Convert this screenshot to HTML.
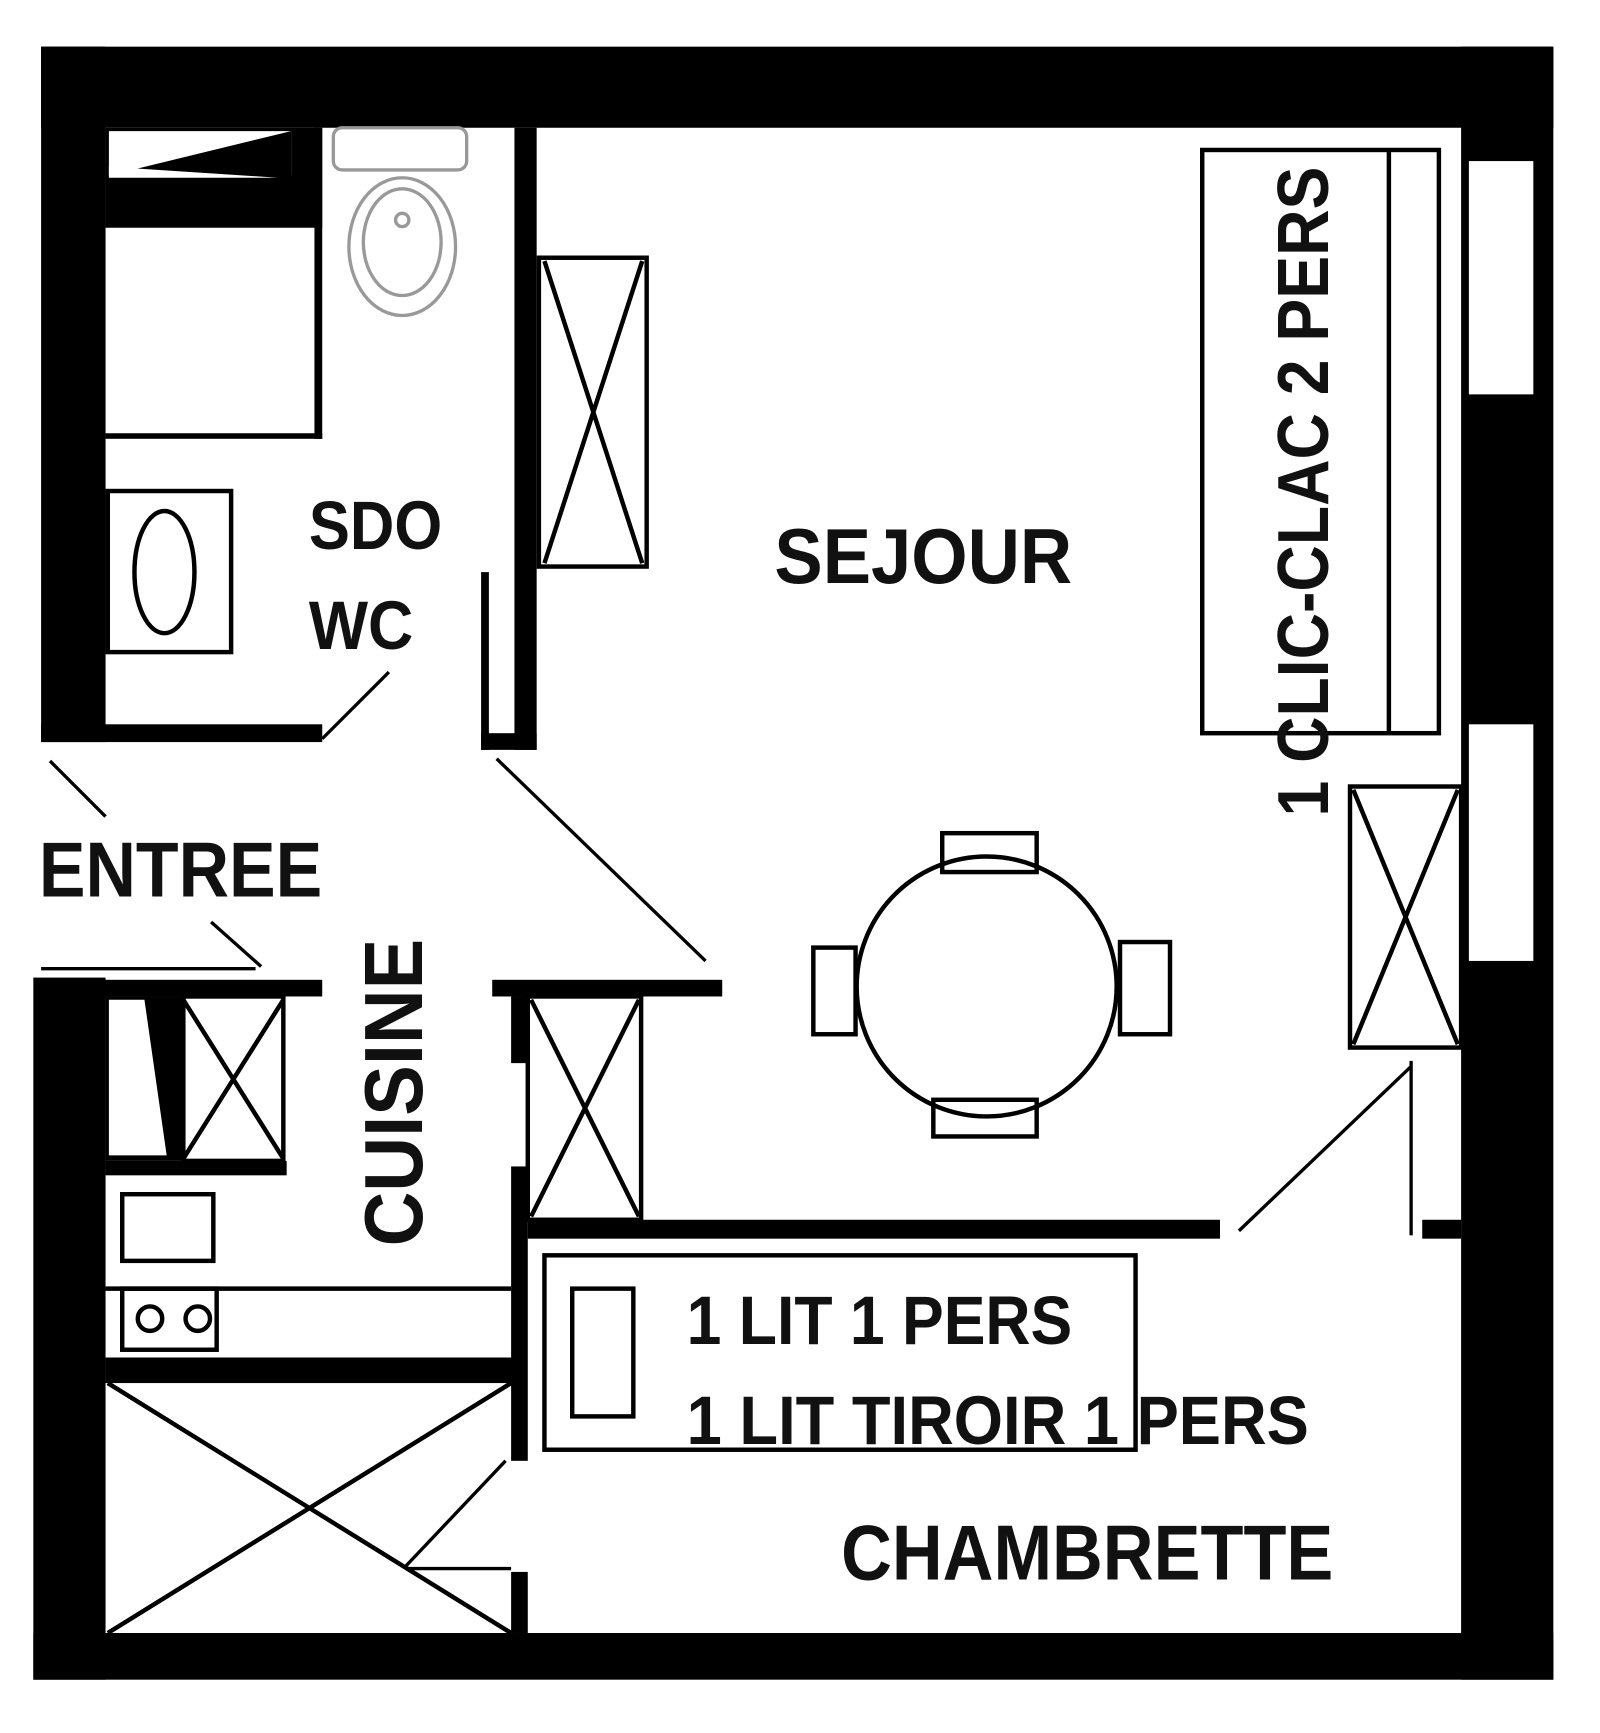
<!DOCTYPE html>
<html><head><meta charset="utf-8"><style>
html,body{margin:0;padding:0;background:#fff;}
svg{display:block;}
text{font-family:"Liberation Sans",sans-serif;font-weight:bold;fill:#111;}
</style></head><body>
<svg width="1600" height="1733" viewBox="0 0 1440 1560" preserveAspectRatio="none" xmlns="http://www.w3.org/2000/svg">
<rect width="1440" height="1560" fill="#fff"/>
<g fill="#000">
<rect x="37" y="42" width="1361" height="73"/>
<rect x="37" y="42" width="58" height="626"/>
<rect x="30" y="880" width="65" height="632"/>
<rect x="30" y="1470" width="1368" height="42"/>
<rect x="1315" y="42" width="83" height="1470"/>
<rect x="95" y="115" width="195" height="90"/>
<rect x="283" y="115" width="7" height="280"/>
<rect x="95" y="390" width="195" height="5"/>
<rect x="37" y="652" width="253" height="16"/>
<rect x="463" y="115" width="20" height="560"/>
<rect x="433" y="515" width="7" height="160"/>
<rect x="433" y="660" width="50" height="15"/>
<rect x="37" y="882" width="253" height="15"/>
<rect x="443" y="882" width="207" height="15"/>
<rect x="460" y="897" width="15" height="60"/>
<rect x="460" y="1050" width="15" height="265"/>
<rect x="460" y="1415" width="15" height="55"/>
<rect x="95" y="1045" width="163" height="13"/>
<rect x="95" y="1222" width="375" height="23"/>
<rect x="475" y="1098" width="623" height="17"/>
<rect x="1280" y="1098" width="35" height="17"/>
<rect x="95" y="897" width="70" height="148"/>
</g>
<polygon points="98,118 262,118 262,158 98,158" fill="#fff"/>
<polygon points="98,158 262,118 262,158" fill="#000"/>
<polygon points="98,160 250,160 98,150" fill="#fff"/>
<polygon points="98,900 130,900 150,1040 98,1040" fill="#fff"/>
<rect x="1322" y="145" width="58" height="210" fill="#fff"/>
<rect x="1322" y="652" width="58" height="213" fill="#fff"/>
<g fill="none" stroke="#000" stroke-width="4">
<rect x="97" y="442" width="111" height="145"/>
<ellipse cx="148" cy="515" rx="27" ry="55"/>
<rect x="485" y="232" width="97" height="278"/>
<path d="M490,235 L578,507 M578,235 L490,507"/>
<rect x="165" y="897" width="90" height="148"/>
<path d="M165,900 L255,1043 M255,900 L165,1043"/>
<rect x="475" y="897" width="102" height="201"/>
<path d="M478,900 L575,1095 M575,900 L478,1095"/>
<rect x="1215" y="708" width="100" height="235"/>
<path d="M1218,711 L1312,940 M1312,711 L1218,940"/>
<path d="M97,1245 L460,1470 M460,1245 L97,1470"/>
<rect x="110" y="1075" width="82" height="60"/>
<rect x="110" y="1160" width="85" height="55"/>
<circle cx="135" cy="1187" r="11"/><circle cx="178" cy="1187" r="11"/>
<path d="M95,1160 L460,1160"/>
<rect x="1082" y="135" width="213" height="525"/>
<path d="M1250,135 L1250,660"/>
<circle cx="888" cy="888" r="117"/>
<rect x="848" y="750" width="85" height="35"/>
<rect x="840" y="990" width="93" height="33"/>
<rect x="732" y="853" width="38" height="78"/>
<rect x="1008" y="848" width="45" height="83"/>
<rect x="490" y="1130" width="532" height="175"/>
<rect x="515" y="1160" width="55" height="115"/>
</g>
<g fill="none" stroke="#999" stroke-width="3">
<rect x="300" y="115" width="120" height="38" rx="8"/>
<ellipse cx="362" cy="222" rx="48" ry="62"/>
<ellipse cx="362" cy="218" rx="35" ry="48"/>
<circle cx="362" cy="198" r="6"/>
</g>
<g stroke="#000" stroke-width="3" fill="none">
<path d="M290,665 L350,605"/>
<path d="M447,683 L635,865"/>
<path d="M45,685 L95,735"/>
<path d="M190,830 L235,870"/>
<path d="M37,872 L230,872"/>
<path d="M365,1410 L455,1315"/>
<path d="M365,1412 L460,1412"/>
<path d="M1115,1108 L1270,960"/>
<path d="M1270,955 L1270,1112"/>
</g>
<g lengthAdjust="spacingAndGlyphs">
<text x="278" y="494" font-size="62" textLength="120" lengthAdjust="spacingAndGlyphs">SDO</text>
<text x="278" y="584" font-size="62" textLength="94" lengthAdjust="spacingAndGlyphs">WC</text>
<text x="697" y="525" font-size="70" textLength="268" lengthAdjust="spacingAndGlyphs">SEJOUR</text>
<text x="35" y="807" font-size="70" textLength="255" lengthAdjust="spacingAndGlyphs">ENTREE</text>
<text transform="translate(380,1122) rotate(-90)" font-size="74" textLength="277" lengthAdjust="spacingAndGlyphs">CUISINE</text>
<text transform="translate(1195,735) rotate(-90)" font-size="65" textLength="585" lengthAdjust="spacingAndGlyphs">1 CLIC-CLAC 2 PERS</text>
<text x="618" y="1210" font-size="62" textLength="347" lengthAdjust="spacingAndGlyphs">1 LIT 1 PERS</text>
<text x="618" y="1300" font-size="62" textLength="560" lengthAdjust="spacingAndGlyphs">1 LIT TIROIR 1 PERS</text>
<text x="757" y="1422" font-size="70" textLength="443" lengthAdjust="spacingAndGlyphs">CHAMBRETTE</text>
</g>
</svg>
</body></html>
